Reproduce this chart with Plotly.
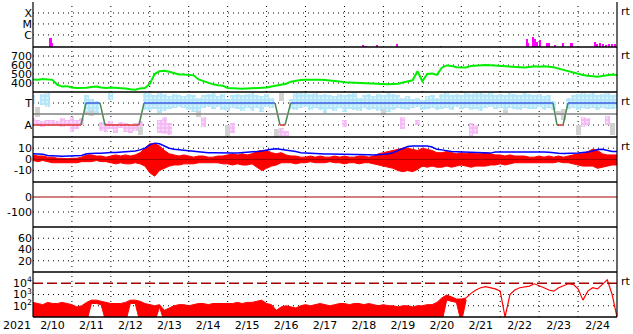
import pandas as pd
import plotly.graph_objects as go
from plotly.subplots import make_subplots

# ---------------- data (3-hourly samples, 2021-02-10 00:00 .. 2021-02-25 00:00) ----------------
times = pd.date_range("2021-02-10 00:00", "2021-02-25 00:00", freq="3h")

speed = [440, 435, 445, 440, 435, 380, 360, 365, 350, 345,
         345, 348, 355, 360, 350, 345, 350, 348, 345, 340,
         330, 325, 340, 345, 390, 500, 530, 535, 525, 510,
         495, 495, 490, 485, 440, 420, 400, 385, 375, 370,
         345, 340, 335, 335, 338, 340, 342, 345, 350, 362,
         370, 385, 392, 415, 425, 432, 435, 437, 433, 435,
         432, 430, 425, 418, 408, 405, 400, 398, 395, 392,
         390, 388, 385, 387, 390, 392, 405, 415, 430, 530,
         420, 500, 505, 490, 570, 595, 590, 575, 570, 572,
         590, 595, 598, 600, 598, 595, 590, 585, 580, 582,
         575, 572, 578, 585, 580, 585, 580, 575, 560, 545,
         530, 520, 500, 490, 480, 475, 470, 478, 490, 495,
         490]

bt = [5, 4.8, 4.5, 3.5, 3, 3, 2.8, 3, 3, 3.2,
      3.5, 5, 5.5, 5.4, 5.5, 6, 6.2, 6.2, 6.5, 6.5,
      6.8, 7.5, 8.5, 10, 13, 14.5, 14, 12, 10, 9,
      8.5, 8, 8, 7.5, 7, 6.5, 6, 6, 5.8, 5.5,
      5.5, 5.6, 5.8, 6, 6.2, 6.5, 7, 7.5, 8.5, 9,
      9.5, 9, 8.5, 8, 7, 6, 5.7, 5.5, 5, 4.8,
      4.8, 4.8, 4.8, 4.8, 4.5, 4.5, 4.5, 4.5, 4.3, 4.2,
      4, 4, 4.5, 5, 6, 8, 10, 11.5, 12, 12,
      12.5, 12, 11, 9, 8.5, 7.5, 7, 6.8, 6.6, 6.6,
      6.5, 6.2, 6, 5.8, 5.6, 6.5, 6.6, 6.8, 6.8, 6.6,
      6.5, 6.5, 6.6, 6.8, 6.6, 6.6, 6.4, 5.8, 5.5, 5.3,
      5.3, 5.5, 5.8, 6.2, 6.5, 7.5, 8.8, 9, 8, 7,
      7]

bz_hi = [4, 3, 3, 2, 2, 1, 1, 0.5, 1, 1,
         2, 4, 4, 3, 3, 2, 3, 4, 3, 4,
         3, 4, 6, 10, 14, 14, 12, 8, 5, 4,
         3, 4, 3, 2, 3, 3, 2, 2, 3, 3,
         4, 5, 4, 5, 4, 5, 7, 8, 8, 6,
         5, 6, 4, 3, 3, 2, 2, 3, 2, 3,
         2, 2, 3, 2, 3, 2, 2, 3, 3, 2,
         3, 5, 6, 7, 8, 9, 10, 10, 9, 8,
         10, 9, 8, 6, 6, 7, 6, 5, 6, 5,
         6, 5, 5, 6, 5, 4, 4, 3, 4, 3,
         3, 3, 2, 2, 3, 2, 3, 2, 3, 2,
         3, 4, 5, 5, 7, 9, 8, 5, 4, 4,
         4]
bz_lo = [-1, -2, -1, -2, -3, -3, -3, -3, -3, -3,
         -2, -2, -2, -1, -2, -2, -3, -4, -3, -4,
         -4, -3, -4, -6, -12, -15, -10, -8, -6, -5,
         -5, -4, -4, -4, -3, -3, -3, -3, -3, -4,
         -4, -5, -4, -5, -5, -4, -7, -10, -8, -6,
         -5, -3, -3, -3, -4, -3, -3, -2, -3, -3,
         -3, -2, -3, -3, -4, -3, -3, -4, -3, -3,
         -4, -5, -6, -7, -8, -10, -11, -10, -11, -9,
         -6, -7, -6, -7, -7, -6, -7, -6, -5, -6,
         -7, -6, -6, -6, -5, -5, -4, -5, -4, -3,
         -3, -3, -3, -3, -3, -3, -3, -3, -2, -3,
         -3, -4, -5, -6, -6, -6, -8, -7, -6, -5,
         -5]

# electron flux, log10 upper / lower envelope (lower list shorter -> rest is a plain line)
flux_log_hi = [2.3, 2.2, 2.1, 2.3, 2.2, 2.2, 2.3, 2.2, 2.1, 1.9,
               2.0, 2.3, 2.5, 2.5, 2.4, 2.3, 2.2, 2.2, 2.2, 2.3,
               2.5, 2.5, 2.4, 2.2, 2.1, 2.0, 2.1, 1.6, 1.8, 2.0,
               2.1, 2.1, 2.0, 2.1, 2.2, 2.2, 2.1, 2.2, 2.2, 2.2,
               2.2, 2.2, 2.3, 2.2, 2.3, 2.3, 2.4, 2.5, 2.2, 2.1,
               1.6, 1.9, 2.0, 1.9, 1.8, 2.0, 2.1, 2.0, 2.1, 2.2,
               2.1, 2.0, 2.1, 2.2, 2.2, 2.1, 2.2, 2.2, 2.1, 2.2,
               2.1, 2.0, 2.1, 2.0, 2.0, 1.9, 2.0, 2.0, 1.9, 2.0,
               2.0, 2.1, 2.1, 2.3, 2.7, 2.95, 2.8, 2.6, 2.6, 2.7,
               3.1, 3.4, 3.6, 3.7, 3.6, 3.5, 3.3, 1.0, 3.0, 3.4,
               3.6, 3.7, 3.75, 3.95, 3.8, 3.6, 3.4, 3.3, 3.6, 3.8,
               3.95, 3.9, 3.5, 2.5, 3.3, 3.6, 3.5, 3.9, 4.3, 3.0,
               1.0]
flux_log_lo = [0.5, 0.5, 0.5, 0.5, 0.5, 0.5, 0.5, 0.5, 0.5, 0.5,
               0.5, 0.5, 2.2, 2.2, 2.1, 0.5, 0.5, 0.5, 0.5, 0.5,
               2.2, 2.2, 0.5, 0.5, 0.5, 0.5, 1.9, 0.5, 0.5, 0.5,
               0.5, 0.5, 0.5, 0.5, 0.5, 0.5, 0.5, 0.5, 0.5, 0.5,
               0.5, 0.5, 0.5, 0.5, 0.5, 0.5, 0.5, 0.5, 0.5, 0.5,
               0.5, 0.5, 0.5, 0.5, 0.5, 0.5, 0.5, 0.5, 0.5, 0.5,
               0.5, 0.5, 0.5, 0.5, 0.5, 0.5, 0.5, 0.5, 0.5, 0.5,
               0.5, 0.5, 0.5, 0.5, 0.5, 0.5, 0.5, 0.5, 0.5, 0.5,
               0.5, 0.5, 0.5, 0.5, 0.5, 2.5, 2.4, 2.3, 0.5, 2.5]

# IMF sector scatter clouds (T = +1, A = -1)
tow_hi = [1.7, None, 1.8, 1.9, None, None, None, None, None, None,
          None, 1.7, 1.4, 1.2, None, None, 1.9, None, None, None,
          None, None, None, 1.95, 1.95, 1.7, 1.9, 1.8, 1.6, 1.8,
          1.7, 1.6, 1.8, 1.7, 1.5, 1.7, 1.8, 1.9, 1.6, 1.8,
          1.4, 1.7, 1.8, 1.7, 1.8, 1.9, 1.7, 1.6, 1.8, 1.5,
          None, None, None, 1.4, 1.9, 1.95, 1.95, 1.8, 1.9, 1.7,
          1.8, 1.7, 1.6, 1.8, 1.7, 1.8, 1.9, 1.5, 1.7, 1.8,
          1.6, 1.8, 1.7, 1.9, 1.8, 1.7, 1.5, 1.6, 1.4, 1.5,
          1.3, 1.6, 1.7, 1.5, 1.8, 1.9, 1.7, 1.8, 1.7, 1.9,
          1.8, 1.95, 1.9, 1.8, 1.95, 1.7, 1.8, 1.7, 1.9, 1.8,
          1.7, 1.9, 1.8, 1.7, 1.8, 1.6, 1.7, 1.2, None, None,
          1.5, 1.7, 1.8, 1.9, 1.8, 1.9, 1.7, 1.8, 1.95, 1.7,
          1.8]
tow_lo = [0.95, None, 0.85, 0.65, None, None, None, None, None, None,
          None, 0.15, 0.35, 0.1, None, None, 1.25, None, None, None,
          None, None, None, 0.35, 0.25, 0.45, 0.1, 0.25, 0.45, 0.55,
          0.65, 0.55, 0.35, 0.15, 0.25, 0.55, 0.65, 0.45, 0.65, 0.35,
          0.25, 0.55, 0.45, 0.25, 0.55, 0.25, 0.55, 0.15, 0.65, 0.55,
          None, None, None, 0.45, 0.35, 0.55, 0.65, 0.35, 0.55, 0.35,
          0.1, 0.45, 0.25, 0.55, 0.15, 0.45, 0.35, 0.25, 0.55, 0.35,
          0.45, 0.25, 0.45, 0.15, 0.35, 0.55, 0.45, 0.35, 0.55, 0.65,
          0.35, 0.45, 0.55, 0.35, 0.45, 0.55, 0.35, 0.65, 0.45, 0.55,
          0.35, 0.45, 0.25, 0.55, 0.65, 0.45, 0.55, 0.35, 0.55, 0.45,
          0.35, 0.55, 0.45, 0.45, 0.65, 0.35, 0.55, 0.35, None, None,
          0.45, 0.55, 0.35, 0.55, 0.45, 0.55, 0.35, 0.55, 0.45, 0.45,
          0.55]

away_idx = [0, 1, 2, 3, 4, 5, 6, 7, 8, 9, 10, 14, 15, 16, 17, 18, 19, 20, 21, 22,
            26, 27, 28, 35, 41, 51, 52, 64, 76, 79, 90, 91, 113, 114, 118]
away_hi = [-0.4, -0.5, -0.6, -0.5, -0.5, -0.6, -0.4, -0.5, -0.3, -0.5, -0.4,
           -0.7, -0.8, -0.6, -0.9, -0.7, -0.8, -1.0, -0.8, -0.6,
           -0.5, -0.3, -0.8, -0.3, -0.8, -1.3, -1.5, -0.5, -0.3, -0.5,
           -0.8, -1.0, -0.3, -0.4, -0.2]
away_lo = [-0.9, -1.0, -1.2, -1.0, -1.1, -1.0, -1.2, -1.0, -1.6, -1.4, -1.0,
           -1.5, -1.6, -1.4, -1.7, -1.3, -1.6, -1.7, -1.5, -1.2,
           -1.7, -1.8, -1.9, -1.2, -1.7, -2.0, -2.0, -1.2, -1.4, -1.0,
           -2.0, -1.8, -1.2, -1.0, -1.0]

gray_idx = [1, 11, 12, 13, 22, 34, 40, 50, 51, 57, 72, 97, 108, 109, 112, 119]
gray_hi = [0.6, 0.8, 0.7, 0.6, -0.8, 0.5, -1.0, -1.4, 1.9, 1.5, 0.5, 0.4, 0.3, 0.5, -1.0, -0.8]
gray_lo = [-0.3, -0.1, -0.2, 0.0, -1.9, -0.3, -2.0, -2.09, 1.2, 0.9, -0.1, 0.1, -0.1, -0.5, -1.9, -1.9]

# predicted sector boundary (T = 1, A = -1)
sector_times = ["2021-02-10 00:00", "2021-02-11 05:36", "2021-02-11 08:40", "2021-02-11 17:18",
                "2021-02-11 20:23", "2021-02-12 17:20", "2021-02-12 20:26", "2021-02-16 05:11",
                "2021-02-16 08:16", "2021-02-16 11:21", "2021-02-16 14:52", "2021-02-23 08:34",
                "2021-02-23 11:02", "2021-02-23 14:44", "2021-02-23 17:49", "2021-02-25 00:00"]
sector_state = [-1, -1, 1, 1, -1, -1, 1, 1, -1, -1, 1, 1, -1, -1, 1, 1]

# X-ray flux bursts (W/m2)
xray_times = ["2021-02-10 11:00", "2021-02-10 12:00", "2021-02-18 11:40", "2021-02-18 13:05",
              "2021-02-18 20:15", "2021-02-19 08:35", "2021-02-20 11:45", "2021-02-22 16:45",
              "2021-02-22 17:15", "2021-02-22 20:25", "2021-02-22 21:30", "2021-02-22 22:30",
              "2021-02-23 00:30", "2021-02-23 04:50", "2021-02-23 06:00", "2021-02-23 09:50",
              "2021-02-23 14:55", "2021-02-23 20:05", "2021-02-24 10:30", "2021-02-24 11:45",
              "2021-02-24 13:30", "2021-02-24 15:20", "2021-02-24 17:15", "2021-02-24 19:10",
              "2021-02-24 20:55", "2021-02-24 22:45"]
xray_flux = [5.4e-7, 1.8e-7, 1.3e-7, 1.05e-7, 1.25e-7, 1.5e-7, 1.0e-7, 4.0e-7,
             1.8e-7, 7.0e-7, 4.4e-7, 2.5e-7, 3.2e-7, 2.0e-7, 2.0e-7, 1.25e-7,
             2.0e-7, 2.0e-7, 2.5e-7, 1.6e-7, 1.8e-7, 1.4e-7, 1.25e-7, 1.4e-7,
             1.6e-7, 1.4e-7]

day_lines = ["2021-02-%02d" % d for d in range(11, 25)]
day_labels_fmt = "%-m/%-d"
year_label = "2021"

# y-axis settings per panel
panel_ranges = [[-7.1, -3], [300, 800], [-2.09, 2], [-20.2, 20], [-200, 100], [0, 80], [1, 5]]
panel_ticks = [[1e-6, 1e-5, 1e-4], [400, 500, 600, 700], [1, -1], [10, 0, -10], [0, -100],
               [20, 40, 60], [100, 1000, 10000]]
panel_ticktext = [["C", "M", "X"], ["400", "500", "600", "700"], ["T", "A"], ["10", "0", "-10"],
                  ["0", "-100"], ["20", "40", "60"],
                  ["10<sup>2</sup>", "10<sup>3</sup>", "10<sup>4</sup>"]]
panel_log = [True, False, False, False, False, False, True]
panel_grid = [[1e-6, 1e-5, 1e-4], [400, 500, 600, 700], [1, -1], [10, -10], [-100],
              [20, 40, 60], [100, 1000]]
rt_panels = [1, 2, 3, 4, 7]

# ---------------- figure ----------------
fig = make_subplots(rows=7, cols=1, shared_xaxes=True, vertical_spacing=0)

H3 = 3 * 3600 * 1000
DOT = "1px,4px"

# placeholder (empty) traces so that every panel keeps its axes
for r in range(1, 8):
    fig.add_trace(go.Scatter(x=[times[0]], y=[None], mode="lines", hoverinfo="skip"), row=r, col=1)

# panel 1: X-ray
xray_base = 1e-8
fig.add_trace(go.Bar(x=pd.to_datetime(xray_times), y=[f - xray_base for f in xray_flux],
                     base=xray_base, width=1.1 * 3600 * 1000,
                     marker=dict(color="#ff00ff", line=dict(width=0))), row=1, col=1)

# panel 2: solar wind speed
fig.add_trace(go.Scatter(x=times, y=speed, mode="lines",
                         line=dict(color="#00ee00", width=2)), row=2, col=1)

# panel 3: sector
def bars(idx, hi, lo, color, pattern=None):
    xs, ys, bs = [], [], []
    for i, h, l in zip(idx, hi, lo):
        if h is None or l is None:
            continue
        xs.append(times[i]); ys.append(h - l); bs.append(l)
    m = dict(color=color, line=dict(width=0))
    if pattern:
        m["pattern"] = pattern
    return go.Bar(x=xs, y=ys, base=bs, width=H3, marker=m)

fig.add_trace(bars(gray_idx, gray_hi, gray_lo, "#d2d2d2"), row=3, col=1)
fig.add_trace(bars(away_idx, away_hi, away_lo, "#f4b8f4",
                   dict(shape=".", fgcolor="white", bgcolor="#f4b8f4", size=4, solidity=0.3)), row=3, col=1)
fig.add_trace(bars(list(range(len(times))), tow_hi, tow_lo, "#b0e6fa",
                   dict(shape=".", fgcolor="white", bgcolor="#b0e6fa", size=4, solidity=0.3)), row=3, col=1)

st = pd.to_datetime(sector_times)
for k in range(len(st) - 1):
    a, b = sector_state[k], sector_state[k + 1]
    if a == b == 1:
        c = "#3a5ce0"
    elif a == b == -1:
        c = "#e03030"
    else:
        c = "#4a8a50"
    fig.add_trace(go.Scatter(x=[st[k], st[k + 1]], y=[a, b], mode="lines",
                             line=dict(color=c, width=1.5)), row=3, col=1)

# panel 4: IMF
fig.add_trace(go.Scatter(x=times, y=bz_hi, mode="lines", line=dict(color="#ff0000", width=1)), row=4, col=1)
fig.add_trace(go.Scatter(x=times, y=bz_lo, mode="lines", fill="tonexty", fillcolor="#ff0000",
                         line=dict(color="#ff0000", width=1)), row=4, col=1)
fig.add_trace(go.Scatter(x=times, y=bt, mode="lines", line=dict(color="#0000ff", width=1.5)), row=4, col=1)

# panel 7: electron flux
n_env = len(flux_log_lo)
fig.add_trace(go.Scatter(x=times[:n_env], y=[10 ** v for v in flux_log_hi[:n_env]], mode="lines",
                         line=dict(color="#ff0000", width=1)), row=7, col=1)
fig.add_trace(go.Scatter(x=times[:n_env], y=[10 ** v for v in flux_log_lo], mode="lines",
                         fill="tonexty", fillcolor="#ff0000",
                         line=dict(color="#ff0000", width=1)), row=7, col=1)
fig.add_trace(go.Scatter(x=times[n_env - 1:], y=[10 ** v for v in flux_log_hi[n_env - 1:]], mode="lines",
                         line=dict(color="#ff0000", width=1.2)), row=7, col=1)

# horizontal dotted grid lines
for r, vals in enumerate(panel_grid, start=1):
    for v in vals:
        fig.add_hline(y=v, row=r, col=1, line=dict(color="black", width=1, dash=DOT),
                      layer="below", exclude_empty_subplots=False)

# reference lines
fig.add_hline(y=0, row=3, col=1, line=dict(color="#808080", width=1.5), exclude_empty_subplots=False)
fig.add_hline(y=0, row=4, col=1, line=dict(color="#a00000", width=1), exclude_empty_subplots=False)
fig.add_hline(y=0, row=5, col=1, line=dict(color="#a00000", width=1), exclude_empty_subplots=False)
fig.add_hline(y=10000, row=7, col=1, line=dict(color="#a00000", width=1.5, dash="10px,4px"),
              exclude_empty_subplots=False)

font = dict(family="DejaVu Sans, sans-serif", size=11, color="black")

for r in range(1, 8):
    rng = panel_ranges[r - 1]
    fig.update_yaxes(row=r, col=1, type="log" if panel_log[r - 1] else "linear", range=rng,
                     tickmode="array", tickvals=panel_ticks[r - 1], ticktext=panel_ticktext[r - 1],
                     showgrid=False, zeroline=False, showline=False, ticks="", tickfont=font)

fig.update_xaxes(type="date", range=["2021-02-10 00:00", "2021-02-25 00:00"],
                 tick0="2021-02-10", dtick=86400000, showticklabels=False,
                 showgrid=False, zeroline=False, showline=False, ticks="", tickfont=font)
fig.update_xaxes(row=7, col=1, showticklabels=True, ticklabelmode="period",
                 tickformat=day_labels_fmt)

# vertical day grid lines across all panels
for d in day_lines:
    fig.add_shape(type="line", xref="x", yref="paper", x0=d, x1=d, y0=0, y1=1,
                  line=dict(color="black", width=1, dash=DOT), layer="below")

# panel borders
for k in range(7):
    fig.add_shape(type="line", xref="paper", yref="paper", x0=0, x1=1, y0=k / 7, y1=k / 7,
                  line=dict(color="black", width=1.5))
for xx in (0, 1):
    fig.add_shape(type="line", xref="paper", yref="paper", x0=xx, x1=xx, y0=0, y1=1,
                  line=dict(color="black", width=1.2))

for r in rt_panels:
    fig.add_annotation(text="rt", xref="paper", yref="paper", x=1, y=1 - (r - 1) / 7,
                       xanchor="left", yanchor="middle", xshift=2, yshift=-9,
                       showarrow=False, font=font)
fig.add_annotation(text=year_label, xref="paper", yref="paper", x=0, y=0, xanchor="center",
                   yanchor="middle", xshift=-16, yshift=-8, showarrow=False, font=font)

fig.update_layout(width=633, height=334, margin=dict(l=33, r=16, t=2, b=17),
                  plot_bgcolor="white", paper_bgcolor="white", showlegend=False,
                  barmode="overlay", bargap=0, font=font)

fig.write_html("out.html")
